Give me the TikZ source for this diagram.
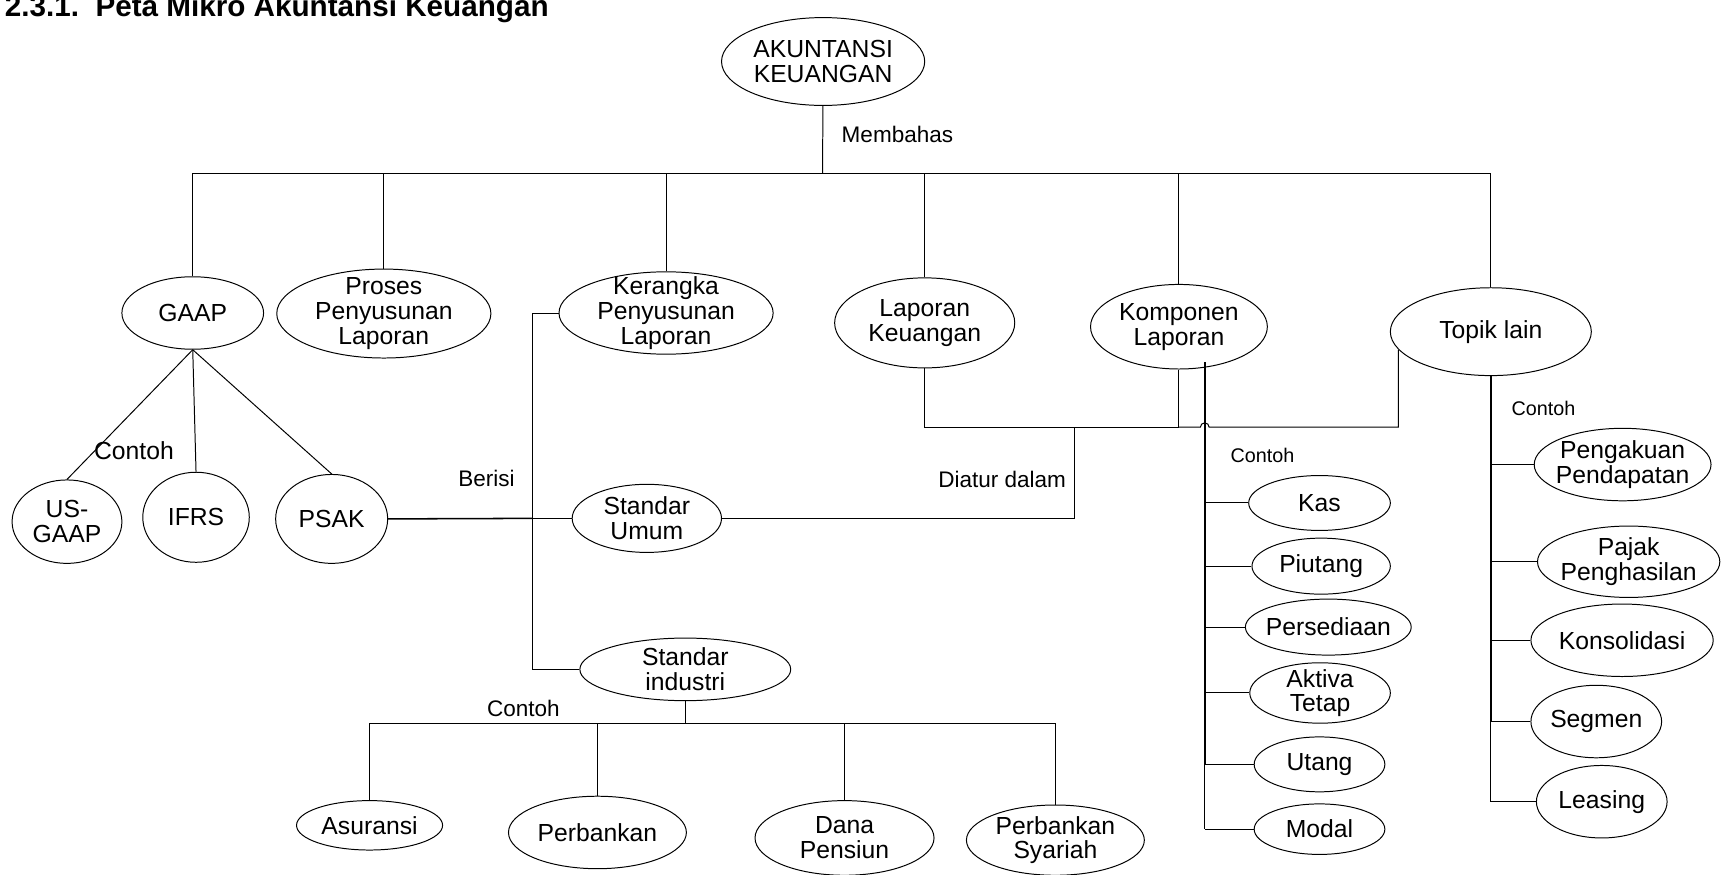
\documentclass[tikz,border=0pt]{standalone}
\usepackage{fontspec}
\setmainfont{Liberation Sans}
\usetikzlibrary{shapes.geometric}

\begin{document}
\begin{tikzpicture}[x=1pt, y=-1pt, line width=0.9pt]
\tikzstyle{every node} = [font=\fontsize{22.5}{22.5}\selectfont]
\tikzstyle{oval} = [ellipse, draw, inner sep=-40pt, align=center]
\tikzstyle{lbl} = [inner sep=0pt, font=\fontsize{20.5}{22}\selectfont]
\tikzstyle{small} = [inner sep=0pt, font=\fontsize{18}{20}\selectfont]
\tikzstyle{bar} = [line width=1.8pt]

\useasboundingbox (0,0) rectangle (1568,796);

\node[anchor=base west, inner sep=0pt, font=\bfseries\fontsize{27}{28}\selectfont] (title) at (4,15) {2.3.1.\hspace{15pt}Peta Mikro Akuntansi Keuangan};

\node[oval, minimum width=185, minimum height=80] (root) at (749.5,56) {AKUNTANSI\\KEUANGAN};

\node[oval, minimum width=129, minimum height=66] (gaap) at (175.5,285) {GAAP};
\node[oval, minimum width=195, minimum height=81] (proses) at (349.5,285.5) {Proses\\Penyusunan\\Laporan};
\node[oval, minimum width=195, minimum height=75] (kerangka) at (606.5,285) {Kerangka\\Penyusunan\\Laporan};
\node[oval, minimum width=164, minimum height=82] (lapkeu) at (842,294) {Laporan\\Keuangan};
\node[oval, minimum width=161, minimum height=77] (komp) at (1073.5,297.5) {Komponen\\Laporan};
\node[oval, minimum width=183, minimum height=80] (topik) at (1357.5,302) {Topik lain};

\node[oval, minimum width=100, minimum height=76] (usgaap) at (61,475) {US-\\GAAP};
\node[oval, minimum width=97, minimum height=82] (ifrs) at (178.5,471) {IFRS};
\node[oval, minimum width=102, minimum height=81] (psak) at (302,472.5) {PSAK};

\node[oval, minimum width=136, minimum height=62] (sumum) at (589,472) {Standar\\Umum};
\node[oval, minimum width=192, minimum height=57] (sind) at (624,609.5) {Standar\\industri};

\node[oval, minimum width=133, minimum height=45] (asur) at (336.5,751.5) {Asuransi};
\node[oval, minimum width=162, minimum height=66] (bank) at (544,758) {Perbankan};
\node[oval, minimum width=163, minimum height=68] (dana) at (769,763) {Dana\\Pensiun};
\node[oval, minimum width=162, minimum height=64] (syariah) at (961,765) {Perbankan\\Syariah};

\node[oval, minimum width=129, minimum height=50] (kas) at (1201.5,458) {Kas};
\node[oval, minimum width=126, minimum height=51] (piutang) at (1203,515.5) {Piutang};
\node[oval, minimum width=151, minimum height=51] (persed) at (1209.5,571) {Persediaan};
\node[oval, minimum width=128, minimum height=55] (aktiva) at (1202,631) {Aktiva\\Tetap};
\node[oval, minimum width=119, minimum height=50] (utang) at (1201.5,696) {Utang};
\node[oval, minimum width=119, minimum height=46] (modal) at (1201.5,755) {Modal};

\node[oval, minimum width=161, minimum height=66] (pengakuan) at (1477.5,423) {Pengakuan\\Pendapatan};
\node[oval, minimum width=166, minimum height=65] (pajak) at (1483,511.5) {Pajak\\Penghasilan};
\node[oval, minimum width=166, minimum height=66] (konsol) at (1477,583) {Konsolidasi};
\node[oval, minimum width=119, minimum height=66] (segmen) at (1453.5,657) {Segmen};
\node[oval, minimum width=119, minimum height=66] (leasing) at (1458.5,730) {Leasing};

% labels
\node[lbl, anchor=west] (lmembahas) at (766,122) {Membahas};
\node[inner sep=0pt] (lcontohgaap) at (122,410) {Contoh};
\node[lbl] (lberisi) at (443,436) {Berisi};
\node[lbl, anchor=east] (ldiatur) at (971,437) {Diatur dalam};
\node[small, anchor=west] (lcontohkomp) at (1120,415) {Contoh};
\node[small, anchor=west] (lcontohtopik) at (1376,372) {Contoh};
\node[lbl, anchor=west] (lcontohind) at (443,645) {Contoh};

\coordinate (bus) at (749,158);
\coordinate (berisi) at (485,472);
\coordinate (diatur) at (978,389);
\coordinate (kline) at (1097,330);
\coordinate (ibus) at (624,659);

\draw (root) -- (bus);
\foreach \n in {gaap,proses,kerangka,lapkeu,komp,topik}
  \draw (\n.north) |- (bus);

\draw (gaap.south) -- (usgaap.north);
\draw (gaap.south) -- (ifrs.north);
\draw (gaap.south) -- (psak.north);

\draw (kerangka.west) -| (berisi) |- (sind.west);
\draw[line width=1.4pt] (psak.east) -- (berisi);
\draw (berisi) -- (sumum.west);

\draw (sumum.east) -| (diatur);
\draw (lapkeu.south) |- (diatur);
\draw (komp.south) |- (diatur);
\draw (komp.south |- diatur) -- ++(19.5,0) arc[start angle=180, end angle=360, radius=4] -| (topik.191);

\draw[bar] (kline) -- (kline |- utang);
\draw (kline |- utang) -- (kline |- modal);
\foreach \n in {kas,piutang,persed,aktiva,utang,modal}
  \draw (kline |- \n) -- (\n.west);

\draw[bar] (topik.south) -- (topik.south |- segmen);
\draw (topik.south |- segmen) -- (topik.south |- leasing);
\foreach \n in {pengakuan,pajak,konsol,segmen,leasing}
  \draw (topik.south |- \n) -- (\n.west);

\draw (sind.south) -- (ibus);
\foreach \n in {asur,bank,dana,syariah}
  \draw (\n.north) |- (ibus);
\end{tikzpicture}
\end{document}
